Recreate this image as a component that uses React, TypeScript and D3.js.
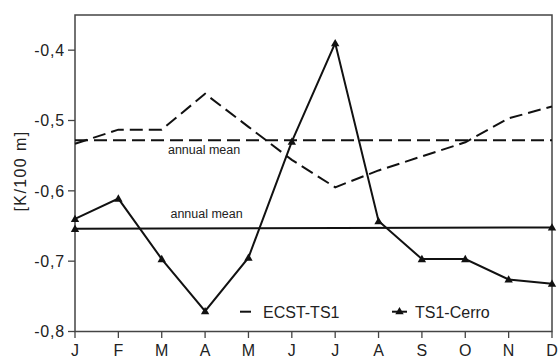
import React from "react";
import * as d3 from "d3";

const months = ["J", "F", "M", "A", "M", "J", "J", "A", "S", "O", "N", "D"];
const ecstTs1 = [-0.533, -0.513, -0.513, -0.462, -0.509, -0.556, -0.595, -0.571, -0.551, -0.531, -0.497, -0.48];
const ts1Cerro = [-0.64, -0.611, -0.697, -0.771, -0.695, -0.53, -0.39, -0.643, -0.697, -0.697, -0.726, -0.732];
const ecstMean = -0.528;
const cerroMean = [-0.654, -0.652];
const yTicks = [-0.8, -0.7, -0.6, -0.5, -0.4];

const W = 559;
const H = 356;
const margin = { left: 75, right: 7, top: 15, bottom: 24.5 };
const FONT = "'Liberation Sans', Arial, Helvetica, sans-serif";

function Triangle({ cx, cy, s = 4.2 }: { cx: number; cy: number; s?: number }) {
  const pts = [
    [cx, cy - s],
    [cx - s, cy + s * 0.75],
    [cx + s, cy + s * 0.75],
  ]
    .map((p) => p.join(","))
    .join(" ");
  return <polygon points={pts} fill="#111" />;
}

export default function App() {
  const x = d3
    .scaleLinear()
    .domain([0, months.length - 1])
    .range([margin.left, W - margin.right]);
  const y = d3
    .scaleLinear()
    .domain([-0.8, -0.35])
    .range([H - margin.bottom, margin.top]);

  const line = d3
    .line<number>()
    .x((_, i) => x(i))
    .y((d) => y(d));

  // decimal comma, plain hyphen for the sign
  const fmt = (v: number) => d3.format(".1f")(v).replace("\u2212", "-").replace(".", ",");
  const dash = "13,6";
  const x0 = x(0);
  const x1 = x(months.length - 1);

  return (
    <div style={{ position: "fixed", left: 0, top: 0 }}>
      <svg width={W} height={H} style={{ display: "block", background: "#fff" }} fontFamily={FONT}>
        {/* plot frame */}
        <rect
          x={x0}
          y={margin.top}
          width={x1 - x0}
          height={H - margin.bottom - margin.top}
          fill="none"
          stroke="#444"
          strokeWidth={1.5}
        />

        {/* y axis ticks and labels */}
        {yTicks.map((t) => (
          <g key={t}>
            <line x1={x0 - 7} x2={x0} y1={y(t)} y2={y(t)} stroke="#444" strokeWidth={1.3} />
            <text
              x={x0 - 10}
              y={y(t)}
              dy="0.36em"
              textAnchor="end"
              fontSize={16}
              letterSpacing={0.8}
              fill="#222"
            >
              {fmt(t)}
            </text>
          </g>
        ))}

        {/* x axis ticks and month labels */}
        {months.map((m, i) => (
          <g key={i}>
            <line
              x1={x(i)}
              x2={x(i)}
              y1={H - margin.bottom}
              y2={H - margin.bottom + 6.5}
              stroke="#444"
              strokeWidth={1.3}
            />
            <text x={x(i)} y={355.5} textAnchor="middle" fontSize={16} fill="#222">
              {m}
            </text>
          </g>
        ))}

        {/* y axis title */}
        <text
          transform={`translate(26,171) rotate(-90)`}
          textAnchor="middle"
          fontSize={16}
          letterSpacing={1.4}
          fill="#222"
        >
          [K/100 m]
        </text>

        {/* annual means */}
        <line
          x1={x0}
          x2={x1}
          y1={y(ecstMean)}
          y2={y(ecstMean)}
          stroke="#111"
          strokeWidth={2}
          strokeDasharray={dash}
        />
        <text x={x(3) - 1} y={y(ecstMean) + 13.5} textAnchor="middle" fontSize={12.5} fill="#222">
          annual mean
        </text>
        <line x1={x0} x2={x1} y1={y(cerroMean[0])} y2={y(cerroMean[1])} stroke="#111" strokeWidth={2} />
        <Triangle cx={x0} cy={y(cerroMean[0])} />
        <Triangle cx={x1} cy={y(cerroMean[1])} />
        <text x={x(3) + 1.5} y={y(cerroMean[0]) - 10.5} textAnchor="middle" fontSize={12.5} fill="#222">
          annual mean
        </text>

        {/* ECST-TS1 series */}
        <path
          d={line(ecstTs1) ?? ""}
          fill="none"
          stroke="#111"
          strokeWidth={2}
          strokeDasharray={dash}
          strokeLinejoin="miter"
        />

        {/* TS1-Cerro series */}
        <path d={line(ts1Cerro) ?? ""} fill="none" stroke="#111" strokeWidth={2} strokeLinejoin="miter" />
        {ts1Cerro.map((v, i) => (
          <Triangle key={i} cx={x(i)} cy={y(v)} />
        ))}

        {/* legend */}
        <line x1={240} x2={251} y1={311.7} y2={311.7} stroke="#111" strokeWidth={2} />
        <text x={263} y={317.5} fontSize={16} fill="#222">
          ECST-TS1
        </text>
        <line x1={392} x2={407} y1={311.7} y2={311.7} stroke="#111" strokeWidth={2} />
        <Triangle cx={399.5} cy={311.2} />
        <text x={415} y={317.5} fontSize={16} fill="#222">
          TS1-Cerro
        </text>
      </svg>
    </div>
  );
}
